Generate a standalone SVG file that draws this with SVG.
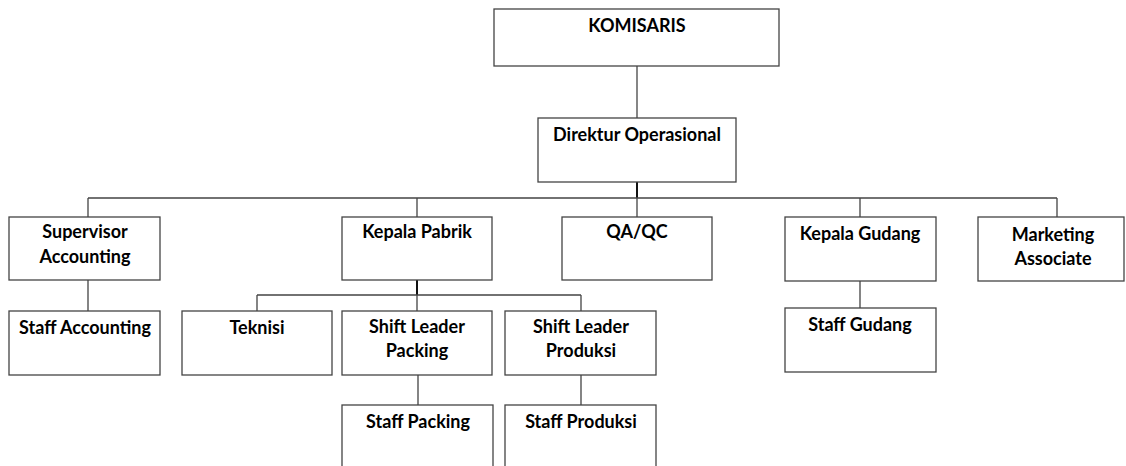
<svg xmlns="http://www.w3.org/2000/svg" width="1126" height="466" viewBox="0 0 1126 466">
<style>
.box{fill:#fff;stroke:#444;stroke-width:1.3}
.lbl{font-family:Lato,"Open Sans",sans-serif;font-weight:bold;font-size:18px;fill:#000;text-anchor:middle}
.ln{fill:none;stroke:#444;stroke-width:1.3}
.thk{fill:none;stroke:#111;stroke-width:2}
</style>
<rect width="1126" height="466" fill="#fff"/>
<g id="connectors">
<path class="ln" d="M637 66V118"/>
<path class="thk" d="M637 182V198"/>
<path class="ln" d="M88 198H1057M88 198V217M417 198V217M637 198V217M860 198V217M1057 198V217"/>
<path class="ln" d="M88 280V311M860 281V308"/>
<path class="thk" d="M417 280V295"/>
<path class="ln" d="M257 295H581M257 295V311M417 295V311M581 295V311"/>
<path class="ln" d="M418 375V405M581 375V405"/>
</g>
<g id="komisaris"><rect class="box" x="494" y="9" width="285" height="57"/><text class="lbl" x="637" y="32">KOMISARIS</text></g>
<g id="direktur"><rect class="box" x="538" y="118" width="198" height="64"/><text class="lbl" x="637" y="141">Direktur Operasional</text></g>
<g id="supervisor-accounting"><rect class="box" x="9" y="217" width="151" height="63"/><text class="lbl" x="85" y="238">Supervisor</text><text class="lbl" x="85" y="263">Accounting</text></g>
<g id="kepala-pabrik"><rect class="box" x="342" y="217" width="150" height="63"/><text class="lbl" x="417" y="238">Kepala Pabrik</text></g>
<g id="qaqc"><rect class="box" x="562" y="217" width="150" height="63"/><text class="lbl" x="637" y="238">QA/QC</text></g>
<g id="kepala-gudang"><rect class="box" x="785" y="217" width="151" height="64"/><text class="lbl" x="860" y="240">Kepala Gudang</text></g>
<g id="marketing"><rect class="box" x="978" y="217" width="146" height="64"/><text class="lbl" x="1053" y="241">Marketing</text><text class="lbl" x="1053" y="265">Associate</text></g>
<g id="staff-accounting"><rect class="box" x="9" y="311" width="151" height="64"/><text class="lbl" x="85" y="334">Staff Accounting</text></g>
<g id="teknisi"><rect class="box" x="182" y="311" width="150" height="64"/><text class="lbl" x="257" y="334">Teknisi</text></g>
<g id="shift-packing"><rect class="box" x="342" y="311" width="150" height="64"/><text class="lbl" x="417" y="333">Shift Leader</text><text class="lbl" x="417" y="357">Packing</text></g>
<g id="shift-produksi"><rect class="box" x="505" y="311" width="151" height="64"/><text class="lbl" x="581" y="333">Shift Leader</text><text class="lbl" x="581" y="357">Produksi</text></g>
<g id="staff-gudang"><rect class="box" x="785" y="308" width="151" height="64"/><text class="lbl" x="860" y="331">Staff Gudang</text></g>
<g id="staff-packing"><rect class="box" x="342" y="405" width="151" height="70"/><text class="lbl" x="418" y="428">Staff Packing</text></g>
<g id="staff-produksi"><rect class="box" x="505" y="405" width="151" height="70"/><text class="lbl" x="581" y="428">Staff Produksi</text></g>
</svg>
